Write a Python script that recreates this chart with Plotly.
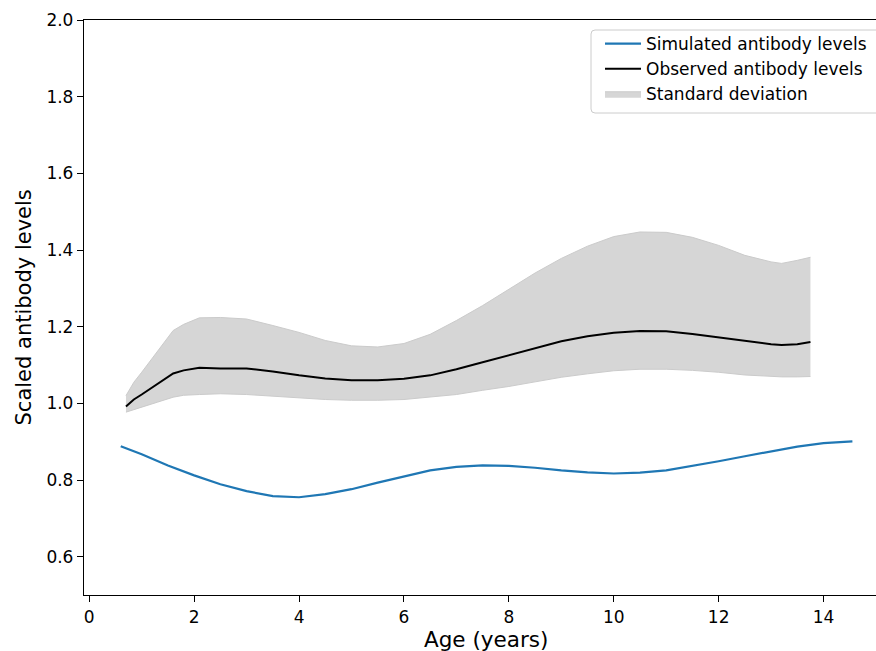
import plotly.graph_objects as go

# Simulated antibody levels
sim_age = [0.6, 1.0, 1.5, 2.0, 2.5, 3.0, 3.5, 4.0, 4.5, 5.0, 5.5, 6.0, 6.5, 7.0, 7.5,
           8.0, 8.5, 9.0, 9.5, 10.0, 10.5, 11.0, 11.5, 12.0, 12.5, 13.0, 13.5, 14.0, 14.55]
sim_level = [0.888, 0.867, 0.838, 0.812, 0.789, 0.771, 0.758, 0.755, 0.763, 0.776, 0.793,
             0.810, 0.825, 0.834, 0.838, 0.837, 0.832, 0.825, 0.820, 0.817, 0.819, 0.825,
             0.836, 0.849, 0.862, 0.875, 0.887, 0.896, 0.901]

# Observed antibody levels with standard deviation band
obs_age = [0.7, 0.85, 1.0, 1.3, 1.6, 1.8, 2.1, 2.5, 3.0, 3.5, 4.0, 4.5, 5.0, 5.5, 6.0,
           6.5, 7.0, 7.5, 8.0, 8.5, 9.0, 9.5, 10.0, 10.5, 11.0, 11.5, 12.0, 12.5, 13.0,
           13.2, 13.5, 13.75]
obs_level = [0.992, 1.010, 1.023, 1.051, 1.078, 1.086, 1.093, 1.091, 1.091, 1.083, 1.073,
             1.065, 1.060, 1.060, 1.064, 1.073, 1.089, 1.107, 1.126, 1.145, 1.162, 1.175,
             1.184, 1.189, 1.188, 1.181, 1.172, 1.162, 1.154, 1.152, 1.154, 1.160]
obs_upper = [1.020, 1.055, 1.081, 1.134, 1.190, 1.206, 1.223, 1.224, 1.220, 1.203, 1.185,
             1.164, 1.150, 1.147, 1.156, 1.180, 1.216, 1.255, 1.298, 1.340, 1.378, 1.410,
             1.435, 1.447, 1.446, 1.433, 1.412, 1.386, 1.369, 1.365, 1.373, 1.381]
obs_lower = [0.977, 0.984, 0.990, 1.003, 1.016, 1.021, 1.023, 1.025, 1.023, 1.018, 1.014,
             1.010, 1.008, 1.008, 1.010, 1.016, 1.023, 1.034, 1.044, 1.056, 1.068, 1.077,
             1.085, 1.089, 1.089, 1.086, 1.081, 1.074, 1.070, 1.069, 1.069, 1.070]

x_ticks = [0, 2, 4, 6, 8, 10, 12, 14]
y_ticks = [0.6, 0.8, 1.0, 1.2, 1.4, 1.6, 1.8, 2.0]

FONT = "DejaVu Sans"

fig = go.Figure()
fig.add_trace(go.Scatter(x=obs_age, y=obs_lower, mode="lines",
                         line=dict(color="#cbcbcb", width=1), showlegend=False,
                         hoverinfo="skip"))
fig.add_trace(go.Scatter(x=obs_age, y=obs_upper, mode="lines", fill="tonexty",
                         fillcolor="#d6d6d6", line=dict(color="#cbcbcb", width=1),
                         name="Standard deviation", legendrank=3))
fig.add_trace(go.Scatter(x=sim_age, y=sim_level, mode="lines",
                         line=dict(color="#1f77b4", width=2.2),
                         name="Simulated antibody levels", legendrank=1))
fig.add_trace(go.Scatter(x=obs_age, y=obs_level, mode="lines",
                         line=dict(color="black", width=2),
                         name="Observed antibody levels", legendrank=2))

# legend frame (matplotlib-style, rounded left corners, runs past the right edge)
W, H = 792.0, 575.0
x0 = (591 - 84) / W
x1 = 1.05
yt = (595 - 30) / H
yb = (595 - 113) / H
rx, ry = 4 / W, 4 / H
frame_path = (f"M {x1} {yt} L {x0 + rx} {yt} Q {x0} {yt} {x0} {yt - ry} "
              f"L {x0} {yb + ry} Q {x0} {yb} {x0 + rx} {yb} L {x1} {yb}")

fig.update_layout(
    width=876, height=651,
    margin=dict(l=84, r=0, t=20, b=56),
    plot_bgcolor="white", paper_bgcolor="white",
    font=dict(family=FONT, size=17, color="black"),
    showlegend=True,
    legend=dict(x=(600 - 84) / W, y=(595 - 26) / H, xanchor="left", yanchor="top",
                traceorder="normal", borderwidth=0, bgcolor="rgba(0,0,0,0)", itemwidth=36,
                font=dict(family=FONT, size=17), tracegroupgap=0),
    shapes=[dict(type="path", xref="paper", yref="paper", path=frame_path,
                 line=dict(color="#cccccc", width=1), fillcolor="white", layer="below")],
    xaxis=dict(range=[-0.1, 15.0], tickvals=x_ticks, ticktext=[str(v) for v in x_ticks],
               showgrid=False, zeroline=False, showline=True, linecolor="black",
               linewidth=1.3, mirror=True, ticks="outside", ticklen=6, tickwidth=1.2,
               tickcolor="black", tickfont=dict(family=FONT, size=17)),
    yaxis=dict(range=[0.5, 2.0], tickvals=y_ticks, ticktext=[f"{v:.1f}" for v in y_ticks],
               showgrid=False, zeroline=False, showline=True, linecolor="black",
               linewidth=1.3, ticks="outside", ticklen=6, tickwidth=1.2,
               tickcolor="black", tickfont=dict(family=FONT, size=17)),
    annotations=[
        dict(text="Age (years)", xref="paper", yref="paper", x=0.5076, y=-0.053,
             xanchor="center", yanchor="top", showarrow=False,
             font=dict(family=FONT, size=21.5)),
        dict(text="Scaled antibody levels", xref="paper", yref="paper", x=-0.0758, y=0.5,
             xanchor="center", yanchor="middle", textangle=-90, showarrow=False,
             font=dict(family=FONT, size=21)),
    ],
)

fig.write_html("out.html", config={"displayModeBar": False},
               post_script="document.body.style.margin='0';document.body.style.overflow='hidden';")
